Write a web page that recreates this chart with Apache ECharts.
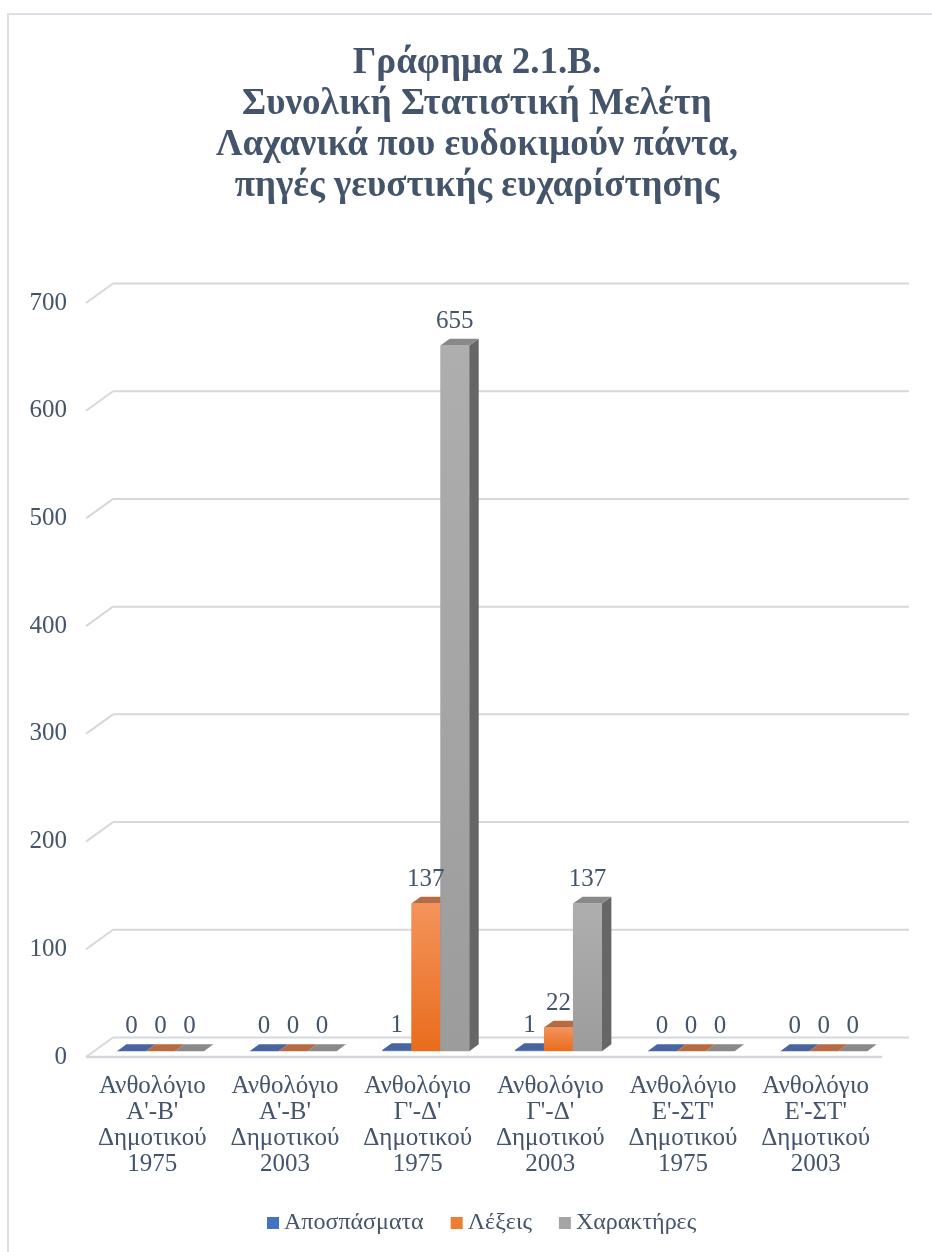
<!DOCTYPE html>
<html>
<head>
<meta charset="utf-8">
<script src="https://cdn.jsdelivr.net/npm/echarts@6/dist/echarts.min.js"></script>
<style>
  html, body { margin: 0; padding: 0; background: #ffffff; }
  #chart { width: 932px; height: 1252px; }
</style>
</head>
<body>
<div id="chart"></div>
<script>
// Categories (anthology and edition year)
const categories = [
  "Ανθολόγιο\nΑ'-Β'\nΔημοτικού\n1975",
  "Ανθολόγιο\nΑ'-Β'\nΔημοτικού\n2003",
  "Ανθολόγιο\nΓ'-Δ'\nΔημοτικού\n1975",
  "Ανθολόγιο\nΓ'-Δ'\nΔημοτικού\n2003",
  "Ανθολόγιο\nΕ'-ΣΤ'\nΔημοτικού\n1975",
  "Ανθολόγιο\nΕ'-ΣΤ'\nΔημοτικού\n2003"
];
const seriesNames = ["Αποσπάσματα", "Λέξεις", "Χαρακτήρες"];
const apospasmata = [0, 0, 1, 1, 0, 0];
const lexeis = [0, 0, 137, 22, 0, 0];
const charaktires = [0, 0, 655, 137, 0, 0];
const yTicks = [0, 100, 200, 300, 400, 500, 600, 700];

const titleText = "Γράφημα 2.1.Β.\nΣυνολική Στατιστική Μελέτη\nΛαχανικά που ευδοκιμούν πάντα,\nπηγές γευστικής ευχαρίστησης";

// 3D look: depth of the floor and where the bars sit inside it
const DX = 27, DY = 19.5;
const D0 = 0.3, D1 = 0.65;
const BAR_SHARE = 0.2186;
const TEXT = '#44546A';
const FONT = '"Liberation Serif", "Times New Roman", serif';

const palettes = [
  { front: ['#4A78CC', '#3A64B4'], side: '#2F4F8E', top: '#4A64A0', legend: '#4472C4' },
  { front: ['#F4935C', '#E96C1C'], side: '#A9532A', top: '#B86A40', legend: '#ED7D31' },
  { front: ['#AEAEAE', '#9C9C9C'], side: '#666666', top: '#898989', legend: '#A5A5A5' }
];

function barRenderer(k) {
  const pal = palettes[k];
  return function (params, api) {
    const cat = api.value(0), v = api.value(1);
    const base = api.coord([cat, 0]);
    const top = api.coord([cat, v]);
    const band = api.size([1, 0])[0];
    const w = band * BAR_SHARE;
    const xl = base[0] + D0 * DX + (k - 1.5) * w;
    const xr = xl + w;
    const yb = base[1] - D0 * DY;
    const yt = top[1] - D0 * DY;
    const ddx = (D1 - D0) * DX, ddy = (D1 - D0) * DY;
    const children = [];
    if (yb - yt > 0.5) {
      children.push({
        type: 'polygon', z2: k * 3,
        shape: { points: [[xl, yt], [xr, yt], [xr, yb], [xl, yb]] },
        style: { fill: new echarts.graphic.LinearGradient(0, 0, 0, 1, [
          { offset: 0, color: pal.front[0] }, { offset: 1, color: pal.front[1] }]) }
      });
      children.push({
        type: 'polygon', z2: k * 3 + 1,
        shape: { points: [[xr, yt], [xr + ddx, yt - ddy], [xr + ddx, yb - ddy], [xr, yb]] },
        style: { fill: pal.side }
      });
    }
    children.push({
      type: 'polygon', z2: k * 3 + 2,
      shape: { points: [[xl, yt], [xr, yt], [xr + ddx, yt - ddy], [xl + ddx, yt - ddy]] },
      style: { fill: pal.top }
    });
    children.push({
      type: 'text', z2: 50,
      style: {
        text: String(v), x: (xl + xr) / 2, y: yt - 24.5,
        align: 'center', verticalAlign: 'middle',
        fill: TEXT, font: '25px ' + FONT
      }
    });
    return { type: 'group', children: children };
  };
}

function wallRenderer(params, api) {
  const cs = params.coordSys;
  const v = api.value(1);
  const y = api.coord([0, v])[1];
  const x0 = cs.x, x1 = cs.x + cs.width;
  const line = { stroke: '#D5D8DD', lineWidth: 2 };
  const children = [
    { type: 'line', shape: { x1: x0, y1: y, x2: x0 + DX, y2: y - DY }, style: line },
    { type: 'line', shape: { x1: x0 + DX, y1: y - DY, x2: x1 + DX, y2: y - DY }, style: line }
  ];
  if (v === 0) {
    children.push({ type: 'line', shape: { x1: x0, y1: y, x2: x1, y2: y },
      style: { stroke: '#D2D5DA', lineWidth: 2.5 } });
  }
  return { type: 'group', children: children };
}

const valueSets = [apospasmata, lexeis, charaktires];

const chart = echarts.init(document.getElementById('chart'), null, { renderer: 'canvas' });
chart.setOption({
  backgroundColor: '#ffffff',
  animation: false,
  title: {
    text: titleText,
    left: 472, top: 38, textAlign: 'center',
    textStyle: { fontFamily: FONT, fontWeight: 'bold', fontSize: 37, lineHeight: 41, color: TEXT }
  },
  graphic: [{
    type: 'rect', z: -10,
    shape: { x: 8, y: 14, width: 1000, height: 1300 },
    style: { fill: 'none', stroke: '#DCE0E6', lineWidth: 2 }
  }],
  legend: {
    data: seriesNames,
    left: 262, top: 1206,
    icon: 'rect', itemWidth: 12, itemHeight: 12, itemGap: 27,
    textStyle: { fontFamily: FONT, fontSize: 24, color: TEXT }
  },
  grid: { left: 86, right: 50, top: 303, bottom: 195, outerBoundsMode: 'none' },
  xAxis: {
    type: 'category', data: categories,
    axisLine: { show: false }, axisTick: { show: false }, splitLine: { show: false },
    axisLabel: { interval: 0, margin: 16, fontFamily: FONT, fontSize: 25, lineHeight: 26, color: TEXT, align: 'center' }
  },
  yAxis: {
    type: 'value', min: 0, max: 700, interval: 100,
    axisLine: { show: false }, axisTick: { show: false }, splitLine: { show: false },
    axisLabel: { margin: 19, fontFamily: FONT, fontSize: 25, color: TEXT }
  },
  series: [
    {
      type: 'custom', name: 'wall', z: 1, silent: true,
      renderItem: wallRenderer,
      data: yTicks.map(v => [0, v]),
      encode: { x: 0, y: 1 }
    }
  ].concat(valueSets.map((vals, k) => ({
    type: 'custom', name: seriesNames[k], z: 2,
    itemStyle: { color: palettes[k].legend },
    renderItem: barRenderer(k),
    data: vals.map((v, i) => [i, v]),
    encode: { x: 0, y: 1 }
  })))
});
</script>
</body>
</html>
